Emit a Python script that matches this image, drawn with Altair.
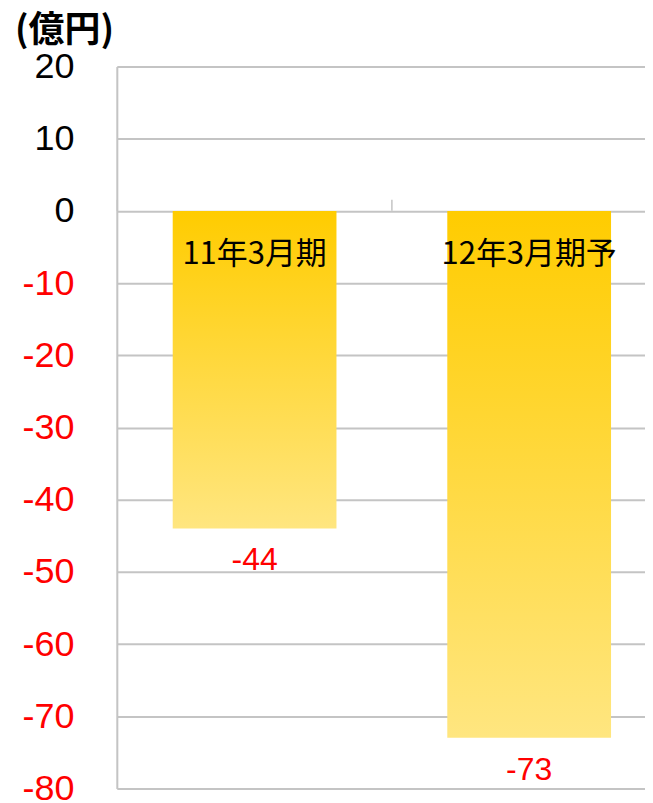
import altair as alt
import pandas as pd

categories = ["11年3月期", "12年3月期予"]
values = [-44, -73]
value_labels = [str(v) for v in values]
y_ticks = [20, 10, 0, -10, -20, -30, -40, -50, -60, -70, -80]
unit_label = "(億円)"

df = pd.DataFrame({"cat": categories, "val": values, "lab": value_labels})

GRID = "#C4C4C4"
PLOT_H = 723

x_enc = alt.X(
    "cat:N",
    sort=categories,
    scale=alt.Scale(paddingInner=0.4036, paddingOuter=0.1636, align=0.622),
    axis=alt.Axis(
        orient="bottom",
        offset=-590,
        title=None,
        labels=False,
        domain=False,
        grid=False,
        ticks=True,
        bandPosition=0,
        tickOffset=-55.5,
        tickSize=11,
        tickColor=GRID,
        tickWidth=1.5,
    ),
)

y_scale = alt.Scale(domain=[-80, 20], nice=False, zero=False)

bars = alt.Chart(df).mark_bar(
    color=alt.Gradient(
        gradient="linear",
        stops=[
            alt.GradientStop(color="#FFCC00", offset=0),
            alt.GradientStop(color="#FFE680", offset=1),
        ],
        x1=0, x2=0, y1=0, y2=1,
    )
).encode(
    x=x_enc,
    y=alt.Y(
        "val:Q",
        scale=y_scale,
        axis=alt.Axis(
            title=None,
            values=y_ticks,
            grid=True,
            gridColor=GRID,
            gridWidth=2,
            domain=True,
            domainColor=GRID,
            domainWidth=2,
            ticks=False,
            labelFont="Liberation Sans",
            labelFontSize=36,
            labelPadding=43,
            labelExpr="'' + datum.value",
            labelColor=alt.expr("datum.value < 0 ? '#FF0000' : '#000000'"),
        ),
    ),
)

cat_text = alt.Chart(df).mark_text(
    font="Noto Sans CJK JP",
    fontSize=31,
    color="#000000",
    baseline="middle",
    align="center",
    dy=44,
).encode(
    x=x_enc,
    y=alt.Y(datum=0, scale=y_scale),
    text="cat:N",
)

val_text = alt.Chart(df).mark_text(
    font="Liberation Sans",
    fontSize=32,
    color="#FF0000",
    baseline="middle",
    align="center",
    dy=32,
).encode(
    x=x_enc,
    y=alt.Y("val:Q", scale=y_scale),
    text="lab:N",
)

chart = alt.layer(bars, cat_text, val_text).properties(
    width=529,
    height=PLOT_H,
    padding={"left": 6, "top": 4, "right": 0, "bottom": 0},
    title=alt.TitleParams(
        unit_label,
        anchor="start",
        frame="bounds",
        font="Noto Sans CJK JP",
        fontSize=36,
        fontWeight="bold",
        color="#000000",
        offset=-1,
        dx=-7,
    ),
).configure_view(strokeWidth=0).configure(background="white")

chart.save("out.html", embed_options={"renderer": "svg", "actions": False})
